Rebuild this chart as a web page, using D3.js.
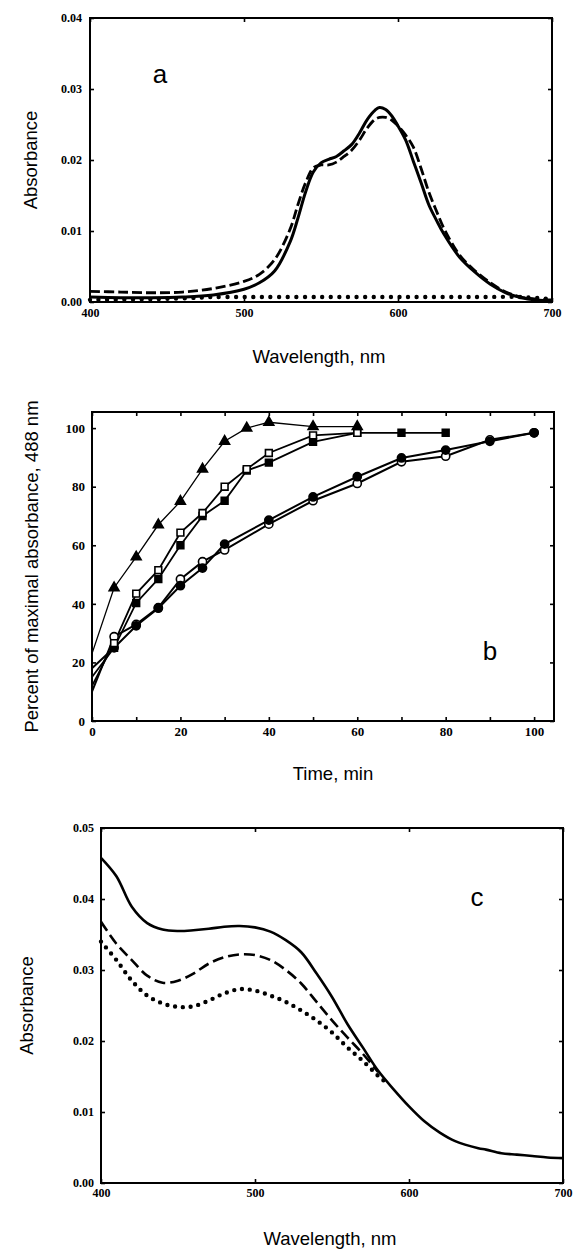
<!DOCTYPE html>
<html><head><meta charset="utf-8">
<script src="https://cdn.jsdelivr.net/npm/d3@7/dist/d3.min.js"></script>
<style>body{margin:0;background:#fff}</style>
</head><body>
<svg id="chart" width="575" height="1257"></svg>
<script>
// ---------- Panel a data ----------
const wlA = [400,420,440,460,480,500,510,520,530,535,540,545,550,555,560,565,570,575,580,585,588,592,596,600,605,610,615,620,625,630,640,650,660,670,680,690,700];
const aSolid = [0.0007,0.0006,0.0006,0.0007,0.0010,0.0018,0.0027,0.0044,0.0085,0.0118,0.0155,0.0183,0.0196,0.0201,0.0205,0.0213,0.0222,0.0238,0.0257,0.0270,0.0274,0.0271,0.0262,0.0248,0.0228,0.0198,0.0168,0.0137,0.0115,0.0095,0.0063,0.0042,0.0025,0.0013,0.0006,0.0003,0.0002];
const aDashed = [0.0015,0.0014,0.0013,0.0014,0.0019,0.0029,0.0039,0.0060,0.0103,0.0137,0.0168,0.0189,0.0193,0.0193,0.0197,0.0205,0.0214,0.0228,0.0245,0.0257,0.0260,0.0260,0.0256,0.0248,0.0235,0.0218,0.0188,0.0155,0.0128,0.0103,0.0066,0.0044,0.0027,0.0014,0.0007,0.0004,0.0003];
const wlADot = [400,440,470,480,500,550,600,650,680,700];
const aDotted = [0.0003,0.0004,0.0006,0.0007,0.0007,0.0007,0.0007,0.0007,0.0007,0.0004];
const xTicksA = [400,500,600,700];
const yTicksA = [0,0.01,0.02,0.03,0.04];

// ---------- Panel b data ----------
const tTri = [0,5,10,15,20,25,30,35,40,50,60];
const vTri = [23,45.5,56,67,75,86,95.5,100,102,100.5,100.5];
const tOpenSq = [0,5,10,15,20,25,30,35,40,50,60];
const vOpenSq = [12,26.6,43.5,51.5,64.3,71,80,86,91.5,97.5,98.4];
const tFillSq = [0,5,10,15,20,25,30,35,40,50,60,70,80];
const vFillSq = [15,25,40.3,48.5,60,70,75.2,85.5,88.2,95.3,98.4,98.4,98.4];
const tFillCi = [0,5,10,15,20,25,30,40,50,60,70,80,90,100];
const vFillCi = [18,25,32.5,38.5,46.2,52.2,60.4,68.6,76.5,83.4,89.8,92.5,95.5,98.4];
const tOpenCi = [0,5,10,15,20,25,30,40,50,60,70,80,90,100];
const vOpenCi = [10,28.8,33,38.7,48.4,54.4,58.4,67.2,75.2,81.1,88.5,90.4,96,98.4];
const xTicksB = [0,10,20,30,40,50,60,70,80,90,100];
const yTicksB = [0,20,40,60,80,100];

// ---------- Panel c data ----------
const wlC = [400,410,420,430,440,450,460,470,480,490,500,510,520,530,540,550,560,570,580,590,600,610,620,630,645,650,660,670,680,690,700];
const cSolid = [0.0458,0.0432,0.0389,0.0366,0.0357,0.0355,0.0356,0.0358,0.0361,0.0362,0.0360,0.0354,0.0342,0.0325,0.0295,0.0262,0.0224,0.0191,0.0158,0.0132,0.0108,0.0087,0.0071,0.0059,0.0049,0.0047,0.0042,0.0040,0.0038,0.0036,0.0035];
const wlCDash = [400,410,420,430,440,450,460,470,480,490,500,510,520,530,540,550,560,570,580];
const cDashed = [0.0368,0.0337,0.0314,0.0292,0.0282,0.0285,0.0295,0.0309,0.0318,0.0322,0.0321,0.0314,0.0300,0.0281,0.0255,0.0229,0.0205,0.0182,0.0156];
const wlCDot = [400,410,420,430,440,450,460,470,480,490,500,510,520,530,540,550,560,570,580,585];
const cDotted = [0.0340,0.0314,0.0285,0.0264,0.0253,0.0248,0.0249,0.0257,0.0267,0.0273,0.0271,0.0264,0.0255,0.0243,0.0229,0.0212,0.0191,0.0172,0.0151,0.0142];
const xTicksC = [400,500,600,700];
const yTicksC = [0,0.01,0.02,0.03,0.04,0.05];

// ---------- helpers ----------
const svg = d3.select('#chart');
const TICKFONT = '"Liberation Serif", "Times New Roman", serif';
const TITLEFONT = '"Liberation Sans", Arial, Helvetica, sans-serif';

function panel(o) {
  const g = svg.append('g');
  const x = d3.scaleLinear().domain(o.xDomain).range([o.left, o.right]);
  const y = d3.scaleLinear().domain(o.yDomain).range([o.bottom, o.top]);
  const styleAxis = sel => {
    sel.select('.domain').remove();
    sel.selectAll('.tick line').attr('stroke', '#000').attr('stroke-width', 1.6);
    sel.selectAll('.tick text').attr('font-family', TICKFONT).attr('font-weight', 'bold')
      .attr('font-size', o.tickFs).attr('fill', '#000');
  };
  g.append('g').attr('transform', `translate(0,${o.bottom})`)
    .call(d3.axisBottom(x).tickValues(o.xTicks).tickSize(-o.tl).tickPadding(o.xPad).tickFormat(o.xFmt))
    .call(styleAxis);
  g.append('g').attr('transform', `translate(0,${o.top})`)
    .call(d3.axisTop(x).tickValues(o.xTicks).tickSize(-o.tl).tickFormat(''))
    .call(styleAxis);
  g.append('g').attr('transform', `translate(${o.left},0)`)
    .call(d3.axisLeft(y).tickValues(o.yTicks).tickSize(-o.tl).tickPadding(o.yPad).tickFormat(o.yFmt))
    .call(styleAxis);
  g.append('g').attr('transform', `translate(${o.right},0)`)
    .call(d3.axisRight(y).tickValues(o.yTicks).tickSize(-o.tl).tickFormat(''))
    .call(styleAxis);
  g.append('rect').attr('x', o.left).attr('y', o.top)
    .attr('width', o.right - o.left).attr('height', o.bottom - o.top)
    .attr('fill', 'none').attr('stroke', '#000').attr('stroke-width', 2);
  g.append('text').attr('x', (o.left + o.right) / 2 + o.xTitleDx).attr('y', o.xTitleY)
    .attr('text-anchor', 'middle').attr('font-family', TITLEFONT).attr('font-size', o.titleFs)
    .text(o.xTitle);
  g.append('text').attr('transform', `translate(${o.yTitleX},${(o.top + o.bottom) / 2}) rotate(-90)`)
    .attr('text-anchor', 'middle').attr('font-family', TITLEFONT).attr('font-size', o.titleFs)
    .text(o.yTitle);
  g.append('text').attr('x', o.tagX).attr('y', o.tagY).attr('text-anchor', 'middle')
    .attr('dominant-baseline', 'middle')
    .attr('font-family', TITLEFONT).attr('font-size', 26).text(o.tag);
  return {g, x, y};
}

function curve(p, xs, ys, style) {
  const line = d3.line().x((d, i) => p.x(xs[i])).y(d => p.y(d)).curve(d3.curveCatmullRom.alpha(0.5));
  p.g.append('path').datum(ys).attr('d', line).attr('fill', 'none').attr('stroke', '#000')
    .attr('stroke-width', style.w).attr('stroke-dasharray', style.dash || null)
    .attr('stroke-linecap', style.cap || 'butt').attr('stroke-linejoin', 'round');
}

// ---------- Panel a ----------
const pa = panel({
  xDomain: [400, 700], yDomain: [0, 0.04], left: 90, right: 552, top: 18, bottom: 302,
  xTicks: xTicksA, yTicks: yTicksA, xFmt: d3.format('d'), yFmt: d3.format('.2f'),
  tl: 4, xPad: 6, yPad: 8, tickFs: 12, titleFs: 18.5,
  xTitle: 'Wavelength, nm', xTitleY: 363, xTitleDx: -2,
  yTitle: 'Absorbance', yTitleX: 37, tag: 'a', tagX: 160, tagY: 76
});
curve(pa, wlADot, aDotted, {w: 4.4, dash: '0,8.6', cap: 'round'});
curve(pa, wlA, aDashed, {w: 2.8, dash: '10,4'});
curve(pa, wlA, aSolid, {w: 3});

// ---------- Panel b ----------
const pb = panel({
  xDomain: [0, 104.5], yDomain: [0, 105.5], left: 92, right: 554, top: 412, bottom: 721,
  xTicks: xTicksB, yTicks: yTicksB, xFmt: d => (d % 20 === 0 ? d : ''), yFmt: d3.format('d'),
  tl: 4, xPad: 6, yPad: 7, tickFs: 13, titleFs: 18.5,
  xTitle: 'Time, min', xTitleY: 780, xTitleDx: 10,
  yTitle: 'Percent of maximal absorbance, 488 nm', yTitleX: 38, tag: 'b', tagX: 490, tagY: 653
});
const lineB = (xs) => d3.line().x((d, i) => pb.x(xs[i])).y(d => pb.y(d));
const seriesB = [
  {t: tOpenCi, v: vOpenCi, sym: d3.symbolCircle, size: 52, fill: '#fff', w: 2},
  {t: tFillCi, v: vFillCi, sym: d3.symbolCircle, size: 52, fill: '#000', w: 2},
  {t: tFillSq, v: vFillSq, sym: d3.symbolSquare, size: 46, fill: '#000', w: 1.8},
  {t: tOpenSq, v: vOpenSq, sym: d3.symbolSquare, size: 46, fill: '#fff', w: 1.8},
  {t: tTri, v: vTri, sym: d3.symbolTriangle, size: 42, fill: '#000', w: 1.3}
];
seriesB.forEach(s => {
  pb.g.append('path').datum(s.v).attr('d', lineB(s.t)).attr('fill', 'none')
    .attr('stroke', '#000').attr('stroke-width', s.w);
});
seriesB.forEach(s => {
  const pts = s.v.map((d, i) => ({t: s.t[i], v: d})).filter(p => p.t > 0);
  pb.g.selectAll(null).data(pts).enter().append('path')
    .attr('d', d3.symbol().type(s.sym).size(s.size))
    .attr('transform', p => `translate(${pb.x(p.t)},${pb.y(p.v)})`)
    .attr('fill', s.fill).attr('stroke', '#000').attr('stroke-width', 1.6);
});

// ---------- Panel c ----------
const pc = panel({
  xDomain: [400, 700], yDomain: [0, 0.05], left: 101, right: 563, top: 828, bottom: 1183,
  xTicks: xTicksC, yTicks: yTicksC, xFmt: d3.format('d'), yFmt: d3.format('.2f'),
  tl: 4, xPad: 5, yPad: 7, tickFs: 12, titleFs: 18.5,
  xTitle: 'Wavelength, nm', xTitleY: 1245, xTitleDx: -2,
  yTitle: 'Absorbance', yTitleX: 33, tag: 'c', tagX: 477, tagY: 899
});
curve(pc, wlCDot, cDotted, {w: 4.4, dash: '0,7.8', cap: 'round'});
curve(pc, wlCDash, cDashed, {w: 2.6, dash: '11,5'});
curve(pc, wlC, cSolid, {w: 2.6});
</script>
</body></html>
